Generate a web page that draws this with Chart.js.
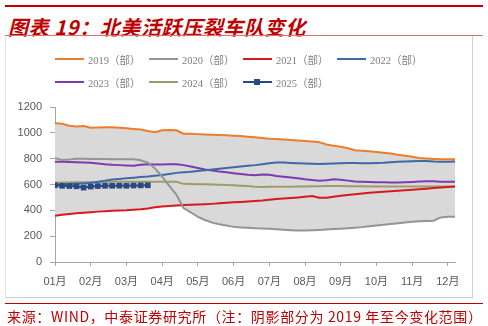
<!DOCTYPE html>
<html>
<head>
<meta charset="utf-8">
<script src="https://cdn.jsdelivr.net/npm/chart.js@4/dist/chart.umd.min.js"></script>
<style>
  html, body { margin: 0; padding: 0; background: #fff; }
  #wrap { position: relative; width: 488px; height: 326px; overflow: hidden; }
  #topRule { position: absolute; left: 5px; top: 5px; width: 478px; height: 2px; background: #c00000; }
  #title { position: absolute; left: 8px; top: 12px; line-height: 20px; font: italic bold 20px "Noto Sans CJK SC", sans-serif; letter-spacing: 0.6px; color: #c00000; white-space: nowrap; }
  #titleRule { position: absolute; left: 5px; top: 35px; width: 478px; height: 1px; background: #e07070; }
  #frame { position: absolute; left: 5px; top: 36px; width: 466px; height: 261px; border-left: 1px solid #e2e2e2; border-right: 1px solid #cfcfcf; border-bottom: 1px solid #cfcfcf; }
  #chart { position: absolute; left: 0; top: 0; }
  #legend { position: absolute; left: 0; top: 0; width: 488px; height: 100px; }
  .item { position: absolute; height: 14px; display: flex; align-items: center; font: 10.5px "Liberation Serif", "Noto Sans CJK SC", serif; color: #7f7f7f; white-space: nowrap; }
  .swatch { position: relative; width: 29px; height: 2px; margin-right: 4px; }
  .mark { position: absolute; left: 11px; top: -2px; width: 6px; height: 6px; }
  #footRule { position: absolute; left: 5px; top: 303px; width: 478px; height: 1px; background: #c00000; }
  #foot { position: absolute; left: 7px; top: 306px; line-height: 16px; font: 14px "Noto Sans CJK SC", sans-serif; letter-spacing: 0.65px; color: #c00000; white-space: nowrap; }
</style>
</head>
<body>
<div id="wrap">
  <div id="topRule"></div>
  <div id="title">图表 19：北美活跃压裂车队变化</div>
  <div id="titleRule"></div>
  <div id="frame"></div>
  <canvas id="chart" width="488" height="326"></canvas>
  <div id="legend"></div>
  <div id="footRule"></div>
  <div id="foot">来源：WIND，中泰证券研究所（注：阴影部分为 2019 年至今变化范围）</div>
</div>
<script>
// Month tick labels (one every five weekly points)
const monthLabels = ['01月','02月','03月','04月','05月','06月','07月','08月','09月','10月','11月','12月'];

// Weekly active frac fleets, North America
const fleet2019 = [1074,1070,1055,1050,1053,1040,1042,1044,1044,1040,1035,1030,1025,1015,1004,1020,1022,1020,993,992,990,988,986,984,982,978,975,970,965,960,955,952,948,944,940,936,933,928,910,900,892,880,865,862,858,852,846,840,830,822,814,806,802,798,795,795,795];
const fleet2020 = [803,790,793,800,800,798,797,797,796,795,795,795,788,770,725,660,590,520,418,385,350,325,305,293,283,272,268,265,262,260,257,254,250,246,243,243,245,248,252,255,258,262,266,270,276,282,288,294,300,306,312,316,318,320,345,350,351];
const fleet2021 = [358,366,372,378,382,386,390,393,396,398,400,404,408,414,424,430,434,438,441,443,445,447,450,454,458,462,465,468,472,476,482,487,492,496,500,505,510,498,497,505,512,518,524,530,536,540,544,548,552,556,560,564,568,572,576,580,584];
const fleet2022 = [598,600,603,605,608,612,622,630,638,643,648,653,658,662,668,674,682,690,694,698,704,710,716,722,728,734,740,746,750,756,764,770,770,767,764,762,760,759,760,762,764,766,766,764,764,766,768,772,776,778,780,782,782,778,776,777,778];
const fleet2023 = [777,776,774,772,770,768,762,756,752,750,748,745,752,756,755,755,757,756,750,740,728,716,708,700,694,688,682,676,672,678,676,666,660,654,648,640,634,630,633,640,636,630,624,622,620,618,617,616,615,617,620,624,626,625,622,622,622];
const fleet2024 = [614,615,616,617,618,619,620,620,621,621,622,622,622,622,622,622,622,621,605,604,602,601,600,598,596,594,591,588,582,580,582,583,583,583,584,585,586,586,588,588,588,587,586,586,585,585,585,584,584,584,584,584,584,584,584,584,584];
const fleet2025 = [594,590,588,586,576,584,588,590,590,591,590,592,593,594];

const seriesNames = ['2019（部）','2020（部）','2021（部）','2022（部）','2023（部）','2024（部）','2025（部）'];
const seriesColors = ['#ee7d2b','#949494','#d71920','#3f6aa6','#7d3bb0','#a09a6c','#274a82'];
const seriesData = [fleet2019, fleet2020, fleet2021, fleet2022, fleet2023, fleet2024, fleet2025];

const toPoints = arr => arr.map((v, i) => ({ x: i, y: v }));
const weekCount = fleet2019.length;

// Envelope of all years (shaded range)
const upper = [], lower = [];
for (let i = 0; i < weekCount; i++) {
  const vals = seriesData.map(s => s[i]).filter(v => v !== undefined && v !== null);
  upper.push(Math.max(...vals));
  lower.push(Math.min(...vals));
}

const datasets = [
  { label: 'upper', data: toPoints(upper), borderColor: 'rgba(0,0,0,0)', borderWidth: 1, pointRadius: 0, fill: false, order: 5 },
  { label: 'lower', data: toPoints(lower), borderColor: 'rgba(0,0,0,0)', borderWidth: 1, pointRadius: 0, fill: 0, backgroundColor: '#d9d9d9', order: 5 }
];
seriesData.forEach((arr, k) => {
  const is2025 = k === 6;
  datasets.push({
    label: seriesNames[k],
    data: toPoints(arr),
    borderColor: seriesColors[k],
    backgroundColor: seriesColors[k],
    borderWidth: 2,
    pointRadius: is2025 ? 4 : 0,
    pointStyle: 'rect',
    pointBorderWidth: 0,
    tension: 0,
    fill: false,
    order: is2025 ? -1 : 1
  });
});

// Legend: four items per row
const legend = document.getElementById('legend');
seriesNames.forEach((name, k) => {
  const item = document.createElement('div');
  item.className = 'item';
  item.style.left = (55 + (k % 4) * 94) + 'px';
  item.style.top = (52 + Math.floor(k / 4) * 23) + 'px';
  const sw = document.createElement('span');
  sw.className = 'swatch';
  sw.style.background = seriesColors[k];
  if (k === 6) {
    const m = document.createElement('span');
    m.className = 'mark';
    m.style.background = seriesColors[k];
    sw.appendChild(m);
  }
  item.appendChild(sw);
  item.appendChild(document.createTextNode(name));
  legend.appendChild(item);
});

const axisColor = '#a6a6a6';
const tickFont = { family: '"Liberation Sans", Arial, "Noto Sans CJK SC"', size: 11 };

new Chart(document.getElementById('chart'), {
  type: 'line',
  data: { datasets },
  options: {
    responsive: false,
    devicePixelRatio: 1,
    animation: false,
    layout: { padding: { top: 107, right: 33, left: 0, bottom: 0 } },
    plugins: {
      legend: { display: false },
      tooltip: { enabled: false },
      filler: { drawTime: 'beforeDatasetsDraw' }
    },
    scales: {
      x: {
        type: 'linear',
        min: 0,
        max: weekCount - 1,
        afterBuildTicks: s => { s.ticks = monthLabels.map((_, k) => ({ value: k * 5 })); },
        afterFit: s => { s.height = 64; },
        ticks: { autoSkip: false, maxRotation: 0, padding: 9, color: '#595959', font: tickFont,
                 callback: v => monthLabels[Math.round(v / 5)] },
        grid: { drawOnChartArea: false, drawTicks: true, tickLength: 4, color: axisColor },
        border: { color: axisColor }
      },
      y: {
        min: 0,
        max: 1200,
        afterFit: s => { s.width = 55; },
        ticks: { stepSize: 200, padding: 8, color: '#595959', font: tickFont,
                 callback: v => String(v) },
        grid: { drawOnChartArea: false, drawTicks: true, tickLength: 5, color: axisColor },
        border: { color: axisColor }
      }
    }
  }
});
</script>
</body>
</html>
